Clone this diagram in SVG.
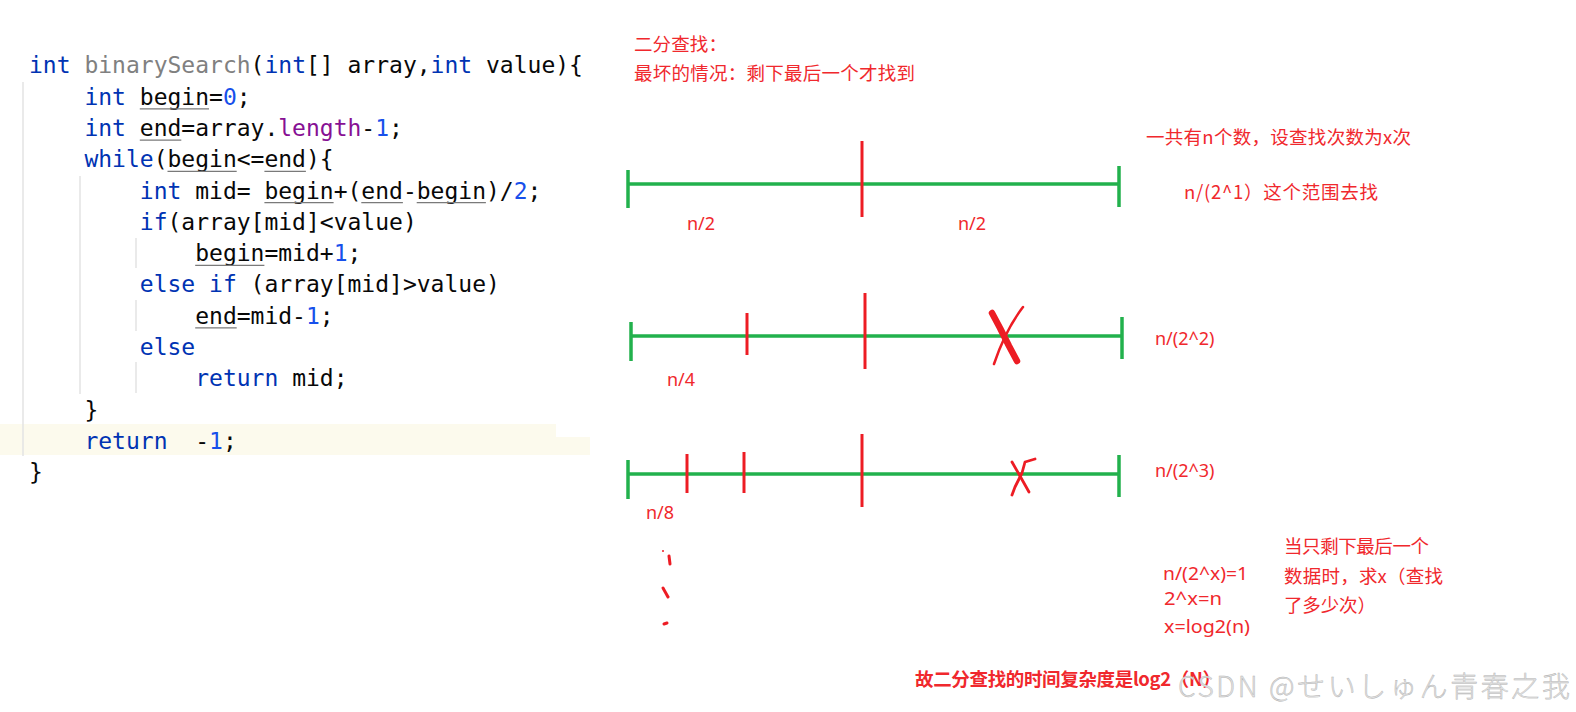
<svg xmlns="http://www.w3.org/2000/svg" width="1576" height="712" viewBox="0 0 1576 712">
<style>
.code{font-family:"DejaVu Sans Mono","Liberation Mono",monospace;font-size:23px;fill:#080808;white-space:pre}
.kw{fill:#0033b3}
.num{fill:#1750eb}
.fld{fill:#871094}
.gray{fill:#808080}
.ul{stroke:#7a7a7a;stroke-width:1.2}
.guide{stroke:#e3e3e3;stroke-width:1.5}
.note{font-family:"Noto Sans CJK SC","Noto Sans",sans-serif;font-size:18.5px;fill:#f0282d}
.lbl{font-family:"Noto Sans","Noto Sans CJK SC",sans-serif;font-size:18px;fill:#f0282d}
.g{stroke:#22b14c;stroke-width:3.5;fill:none}
.r{stroke:#ed1c24;stroke-width:3;fill:none}
.pen{stroke:#ed1c24;fill:none;stroke-linecap:round;stroke-linejoin:round}
</style>
<rect width="1576" height="712" fill="#ffffff"/>
<g id="code">
<rect x="0" y="424" width="556" height="31" fill="#fcfaed"/>
<rect x="556" y="437" width="34" height="18" fill="#fcfaed"/>
<line class="guide" x1="23" y1="82" x2="23" y2="456"/>
<line class="guide" x1="80" y1="176" x2="80" y2="394"/>
<line class="guide" x1="136" y1="238" x2="136" y2="268"/>
<line class="guide" x1="136" y1="300" x2="136" y2="331"/>
<line class="guide" x1="136" y1="362" x2="136" y2="393"/>
<text class="code" x="29" y="73.3"><tspan class="kw">int</tspan> <tspan class="gray">binarySearch</tspan>(<tspan class="kw">int</tspan>[] array,<tspan class="kw">int</tspan> value){</text>
<text class="code" x="84.4" y="104.6"><tspan class="kw">int</tspan> begin=<tspan class="num">0</tspan>;</text>
<text class="code" x="84.4" y="135.9"><tspan class="kw">int</tspan> end=array.<tspan class="fld">length</tspan>-<tspan class="num">1</tspan>;</text>
<text class="code" x="84.4" y="167.2"><tspan class="kw">while</tspan>(begin&lt;=end){</text>
<text class="code" x="139.8" y="198.5"><tspan class="kw">int</tspan> mid= begin+(end-begin)/<tspan class="num">2</tspan>;</text>
<text class="code" x="139.8" y="229.8"><tspan class="kw">if</tspan>(array[mid]&lt;value)</text>
<text class="code" x="195.2" y="261.1">begin=mid+<tspan class="num">1</tspan>;</text>
<text class="code" x="139.8" y="292.4"><tspan class="kw">else if</tspan> (array[mid]&gt;value)</text>
<text class="code" x="195.2" y="323.7">end=mid-<tspan class="num">1</tspan>;</text>
<text class="code" x="139.8" y="355"><tspan class="kw">else</tspan></text>
<text class="code" x="195.2" y="386.3"><tspan class="kw">return</tspan> mid;</text>
<text class="code" x="84.4" y="417.6">}</text>
<text class="code" x="84.4" y="448.9" xml:space="preserve"><tspan class="kw">return</tspan>  -<tspan class="num">1</tspan>;</text>
<text class="code" x="29" y="480.2">}</text>
<line class="ul" x1="139.8" y1="108.8" x2="209" y2="108.8"/>
<line class="ul" x1="139.8" y1="140.1" x2="181.3" y2="140.1"/>
<line class="ul" x1="167.5" y1="171.4" x2="236.7" y2="171.4"/>
<line class="ul" x1="264.4" y1="171.4" x2="305.9" y2="171.4"/>
<line class="ul" x1="264.4" y1="202.7" x2="333.6" y2="202.7"/>
<line class="ul" x1="361.3" y1="202.7" x2="402.9" y2="202.7"/>
<line class="ul" x1="416.7" y1="202.7" x2="485.9" y2="202.7"/>
<line class="ul" x1="195.2" y1="265.3" x2="264.4" y2="265.3"/>
<line class="ul" x1="195.2" y1="327.9" x2="236.7" y2="327.9"/>
</g>
<g id="title">
<text class="note" x="634" y="51" textLength="93" lengthAdjust="spacing">二分查找：</text>
<text class="note" x="634" y="80" textLength="281" lengthAdjust="spacing">最坏的情况：剩下最后一个才找到</text>
</g>
<g id="level1">
<line class="g" x1="628" y1="184" x2="1119" y2="184"/>
<line class="g" x1="628" y1="170" x2="628" y2="208"/>
<line class="g" x1="1119" y1="166" x2="1119" y2="207"/>
<line class="r" x1="862" y1="141" x2="862" y2="217"/>
<text class="lbl" x="687" y="230">n/2</text>
<text class="lbl" x="958" y="230">n/2</text>
<text class="note" x="1146" y="144" textLength="265" lengthAdjust="spacing">一共有n个数，设查找次数为x次</text>
<text class="note" x="1184" y="199" textLength="194" lengthAdjust="spacing">n/(2^1）这个范围去找</text>
</g>
<g id="level2">
<line class="g" x1="631" y1="336" x2="1122" y2="336"/>
<line class="g" x1="631" y1="322" x2="631" y2="361"/>
<line class="g" x1="1122" y1="317" x2="1122" y2="359"/>
<line class="r" x1="747" y1="313" x2="747" y2="355"/>
<line class="r" x1="865" y1="293" x2="865" y2="369"/>
<path class="pen" d="M992,313 L1000,328 L1009,346 L1017,361" stroke-width="6.5"/>
<path class="pen" d="M1023,307 C1013,320 1002,340 994,364" stroke-width="2.5"/>
<text class="lbl" x="667" y="386">n/4</text>
<text class="lbl" x="1155" y="345">n/(2^2)</text>
</g>
<g id="level3">
<line class="g" x1="628" y1="474" x2="1119" y2="474"/>
<line class="g" x1="628" y1="460" x2="628" y2="499"/>
<line class="g" x1="1119" y1="455" x2="1119" y2="497"/>
<line class="r" x1="687" y1="454" x2="687" y2="493"/>
<line class="r" x1="744" y1="452" x2="744" y2="493"/>
<line class="r" x1="862" y1="434" x2="862" y2="507"/>
<path class="pen" d="M1012,462 L1020,476 L1029,492" stroke-width="2.8"/>
<path class="pen" d="M1035,459 L1025,462 L1022,473 L1015,487 L1012,495" stroke-width="2.8"/>
<text class="lbl" x="646" y="519">n/8</text>
<text class="lbl" x="1155" y="477">n/(2^3)</text>
</g>
<g id="dots">
<circle cx="663" cy="551" r="1" fill="#ed1c24"/>
<path class="pen" d="M669,556 L670,564" stroke-width="3"/>
<path class="pen" d="M663,588 L668,597" stroke-width="3"/>
<path class="pen" d="M664,624 L667,623" stroke-width="3"/>
</g>
<g id="derivation">
<text class="lbl" x="1163" y="580" textLength="85" lengthAdjust="spacingAndGlyphs">n/(2^x)=1</text>
<text class="lbl" x="1164" y="605" textLength="58" lengthAdjust="spacingAndGlyphs">2^x=n</text>
<text class="lbl" x="1164" y="633" textLength="86" lengthAdjust="spacingAndGlyphs">x=log2(n)</text>
<text class="note" x="1284" y="553" textLength="145" lengthAdjust="spacing">当只剩下最后一个</text>
<text class="note" x="1284" y="583" textLength="159" lengthAdjust="spacing">数据时，求x（查找</text>
<text class="note" x="1284" y="612" textLength="92" lengthAdjust="spacing">了多少次）</text>
</g>
<g id="conclusion">
<text class="note" x="915" y="686" font-size="17.5" font-weight="bold" textLength="306" lengthAdjust="spacing">故二分查找的时间复杂度是log2（N）</text>
</g>
<g id="watermark">
<text x="1178" y="697" font-family="Noto Sans CJK JP, Noto Sans, sans-serif" font-size="28" font-weight="300" fill="#e2e2e2" stroke="#b4b4b4" stroke-width="0.45" textLength="392" lengthAdjust="spacing">CSDN @せいしゅん青春之我</text>
</g>
</svg>
